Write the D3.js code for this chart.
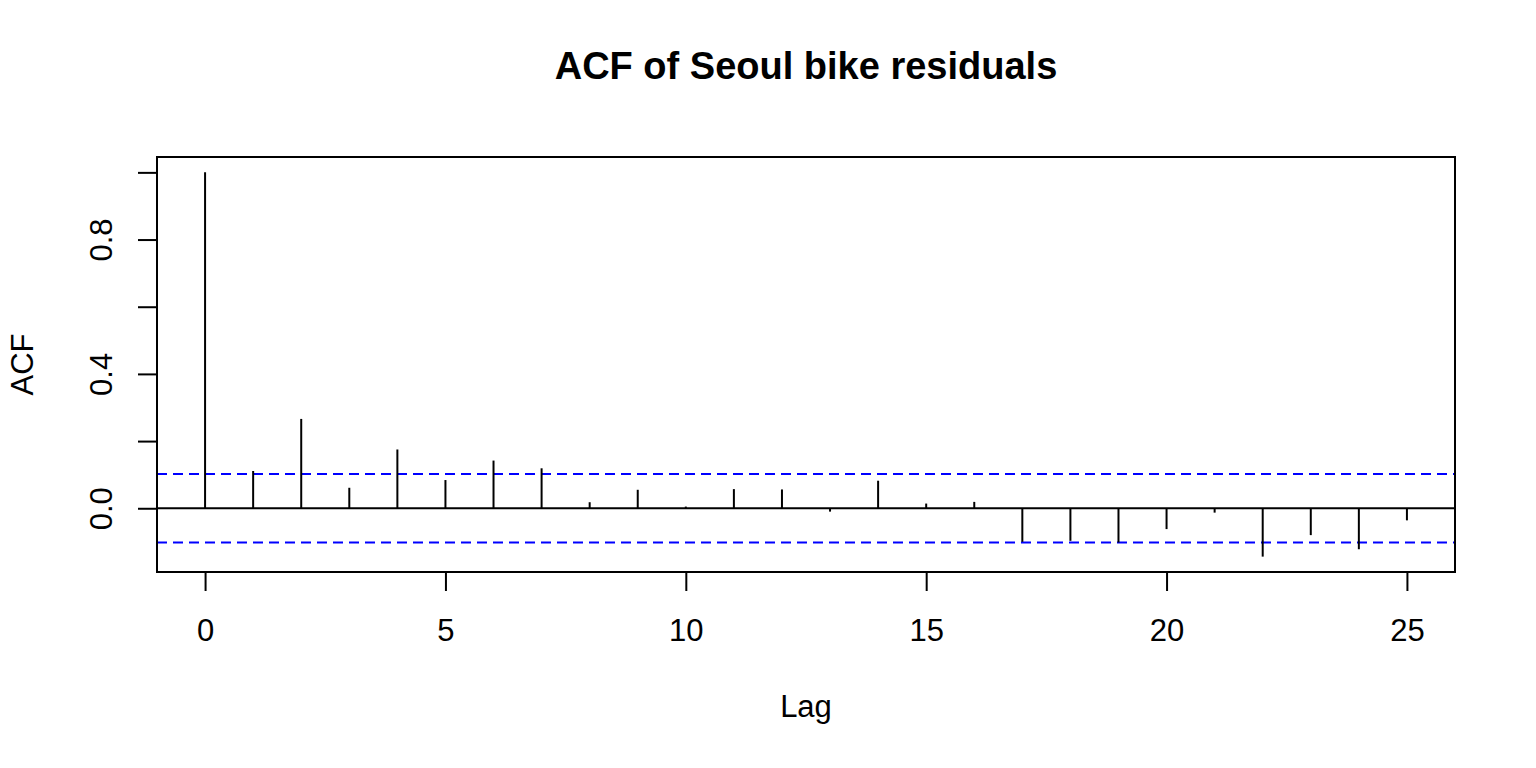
<!DOCTYPE html>
<html>
<head>
<meta charset="utf-8">
<script src="https://cdn.jsdelivr.net/npm/d3@7"></script>
<style>
  body { margin: 0; background: #fff; }
  text { font-family: "Liberation Sans", Arial, Helvetica, sans-serif; fill: #000; }
</style>
</head>
<body>
<div id="chart"></div>
<script>
// autocorrelation of the residuals
var lags = [0, 1, 2, 3, 4, 5, 6, 7, 8, 9, 10, 11, 12, 13, 14, 15, 16, 17, 18, 19, 20, 21, 22, 23, 24, 25];
var acfValues = [1.0, 0.111, 0.266, 0.061, 0.175, 0.084, 0.142, 0.119, 0.018, 0.055,
                 0.005, 0.057, 0.056, -0.010, 0.082, 0.014, 0.019, -0.100, -0.097, -0.102,
                 -0.062, -0.013, -0.144, -0.080, -0.122, -0.036];
var ciBound = 0.102;
var xTicks = [0, 5, 10, 15, 20, 25];
var yTicks = [0.0, 0.2, 0.4, 0.6, 0.8, 1.0];
var yTickLabels = ["0.0", "", "0.4", "", "0.8", ""];

var width = 1536, height = 768;
// plot region edges (not "top": that name is taken by window.top)
var plotLeft = 157, plotRight = 1455, plotTop = 157, plotBottom = 572;
var lineW = 2;

var svg = d3.select("#chart")
    .append("svg")
    .attr("width", width)
    .attr("height", height);

// R style limits: data range widened by 4% on each side
var xmin = d3.min(lags), xmax = d3.max(lags);
var xpad = (xmax - xmin) * 0.04;
var x = d3.scaleLinear()
    .domain([xmin - xpad, xmax + xpad])
    .range([plotLeft, plotRight]);

var ymin = Math.min(d3.min(acfValues), -ciBound);
var ymax = Math.max(d3.max(acfValues), ciBound);
var ypad = (ymax - ymin) * 0.04;
var y = d3.scaleLinear()
    .domain([ymin - ypad, ymax + ypad])
    .range([plotBottom, plotTop]);

svg.append("defs").append("clipPath")
    .attr("id", "plotArea")
    .append("rect")
    .attr("x", plotLeft).attr("y", plotTop)
    .attr("width", plotRight - plotLeft).attr("height", plotBottom - plotTop);

var plot = svg.append("g").attr("clip-path", "url(#plotArea)");

// zero line
plot.append("line")
    .attr("x1", plotLeft).attr("x2", plotRight)
    .attr("y1", y(0)).attr("y2", y(0))
    .attr("stroke", "#000")
    .attr("stroke-width", lineW);

// confidence bounds
plot.selectAll(".ci")
    .data([ciBound, -ciBound])
    .enter().append("line")
    .attr("class", "ci")
    .attr("x1", plotLeft).attr("x2", plotRight)
    .attr("y1", function(d) { return y(d); })
    .attr("y2", function(d) { return y(d); })
    .attr("stroke", "#0000ff")
    .attr("stroke-width", lineW)
    .attr("stroke-dasharray", "10,6");

// spikes
plot.selectAll(".spike")
    .data(lags)
    .enter().append("line")
    .attr("class", "spike")
    .attr("x1", function(d) { return x(d); })
    .attr("x2", function(d) { return x(d); })
    .attr("y1", y(0))
    .attr("y2", function(d, i) { return y(acfValues[i]); })
    .attr("stroke", "#000")
    .attr("stroke-width", lineW);

// box
svg.append("rect")
    .attr("x", plotLeft).attr("y", plotTop)
    .attr("width", plotRight - plotLeft).attr("height", plotBottom - plotTop)
    .attr("fill", "none")
    .attr("stroke", "#000")
    .attr("stroke-width", lineW);

// x axis
var xAxis = svg.append("g")
    .attr("transform", `translate(0, ${plotBottom})`)
    .call(d3.axisBottom(x).tickValues(xTicks).tickSize(19).tickFormat(d3.format("d")));
xAxis.select(".domain").remove();
xAxis.selectAll(".tick line").attr("stroke-width", lineW);
xAxis.selectAll(".tick text")
    .attr("font-size", 31)
    .attr("font-family", "Liberation Sans, Arial, sans-serif")
    .attr("dy", null)
    .attr("y", 69);

// y axis
var yAxis = svg.append("g")
    .attr("transform", `translate(${plotLeft}, 0)`)
    .call(d3.axisLeft(y).tickValues(yTicks).tickSize(19)
        .tickFormat(function(d, i) { return yTickLabels[i]; }));
yAxis.select(".domain").remove();
yAxis.selectAll(".tick line").attr("stroke-width", lineW);
yAxis.selectAll(".tick text")
    .attr("font-size", 31)
    .attr("font-family", "Liberation Sans, Arial, sans-serif")
    .attr("text-anchor", "middle")
    .attr("dy", null)
    .attr("x", null)
    .attr("transform", "translate(-45.3, 0) rotate(-90)");

// title and axis labels
svg.append("text")
    .attr("x", 806)
    .attr("y", 79)
    .attr("text-anchor", "middle")
    .attr("font-size", 38)
    .attr("font-weight", "bold")
    .text("ACF of Seoul bike residuals");

svg.append("text")
    .attr("x", 806)
    .attr("y", 717)
    .attr("text-anchor", "middle")
    .attr("font-size", 31)
    .text("Lag");

svg.append("text")
    .attr("transform", `translate(33, ${(plotTop + plotBottom) / 2}) rotate(-90)`)
    .attr("text-anchor", "middle")
    .attr("font-size", 31)
    .text("ACF");
</script>
</body>
</html>
